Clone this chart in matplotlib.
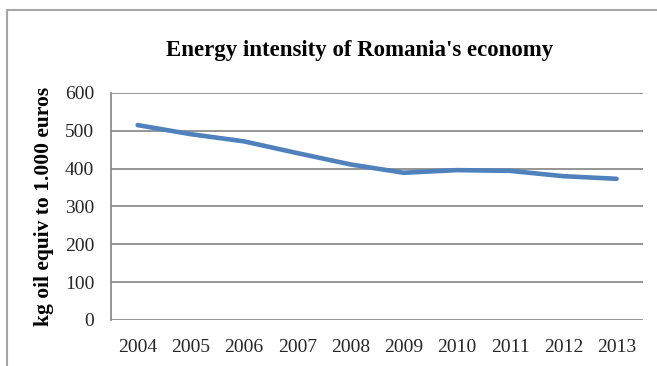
import matplotlib.pyplot as plt
from matplotlib.patches import Rectangle

years = ['2004', '2005', '2006', '2007', '2008', '2009', '2010', '2011', '2012', '2013']
intensity = [515, 491, 472, 441, 411, 389, 396, 394, 380, 373]
yticks = [0, 100, 200, 300, 400, 500, 600]

plt.rcParams['font.family'] = 'Liberation Serif'

fig = plt.figure(figsize=(6.57, 3.66), dpi=100)
ax = fig.add_axes([0.169, 0.126, 0.81, 0.62])

# chart frame, open on the right and bottom
fig.patches.append(Rectangle((0.011, -0.05), 1.2, 0.022 + 1.0, transform=fig.transFigure,
                             fill=False, edgecolor='#a6a6a6', linewidth=1.5))

x = range(len(years))
ax.plot(x, intensity, color='#4f81bd', linewidth=3.3, solid_capstyle='round')

ax.set_xlim(-0.5, len(years) - 0.5)
ax.set_ylim(0, 600)
ax.set_yticks(yticks)
ax.set_xticks(list(x))
ax.set_xticklabels(years)
ax.tick_params(length=0, labelsize=14, colors='#262626')
ax.tick_params(axis='x', pad=14)
ax.tick_params(axis='y', pad=12)

ax.grid(axis='y', color='#8c8c8c', linewidth=1.3)
ax.set_axisbelow(True)
for s in ['top', 'right', 'bottom']:
    ax.spines[s].set_visible(False)
ax.spines['left'].set_color('#8c8c8c')
ax.spines['left'].set_linewidth(1.3)

ax.set_ylabel('kg oil equiv to 1.000 euros', fontsize=15.5, fontweight='bold', labelpad=8)
fig.text(0.548, 0.862, "Energy intensity of Romania's economy", ha='center', va='center',
         fontsize=16.5, fontweight='bold')

fig.savefig('out.png', dpi=100)
